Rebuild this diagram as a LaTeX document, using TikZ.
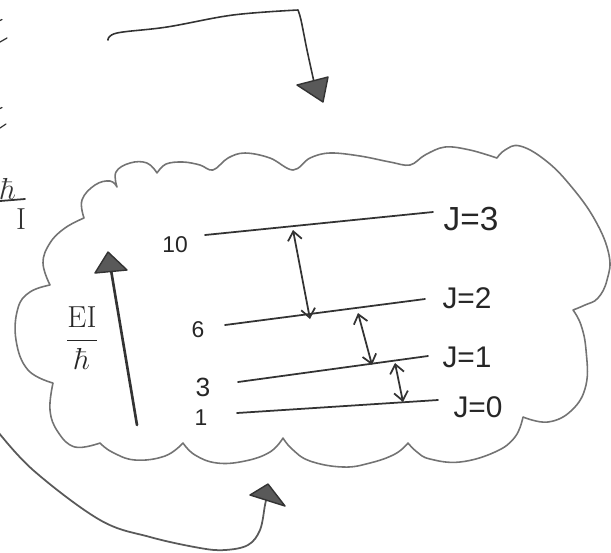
\documentclass[tikz,border=0pt]{standalone}
\usepackage[no-math]{fontspec}
\setmainfont{Liberation Sans}
\usetikzlibrary{arrows.meta}
\begin{document}
\begin{tikzpicture}[x=0.02cm,y=-0.02cm,
  cloudline/.style={draw=black!55, line width=0.9pt, line cap=round, line join=round},
  pencil/.style={draw=black!80, line width=1pt, line cap=round, line join=round},
  gaparrow/.style={pencil, {Straight Barb[length=5pt,width=8pt]}-{Straight Barb[length=5pt,width=8pt]}},
  headtri/.style={fill=black!65, draw=black!80, line width=0.8pt, line join=round},
  lblJ/.style={text=black!85, inner sep=0pt, font=\fontsize{17}{17}\selectfont},
  lblN/.style={text=black!85, inner sep=0pt, font=\fontsize{13}{13}\selectfont}]
\useasboundingbox (0,0) rectangle (611,552);
\clip (0,0) rectangle (611,552);

% cloud
\draw[cloudline]
  plot[smooth,tension=0.7] coordinates {(50,285) (43,263) (50,243) (65,228) (84,218)}
  plot[smooth,tension=0.7] coordinates {(84,218) (82,200) (95,185) (110,181) (117,187)}
  plot[smooth,tension=0.7] coordinates {(117,187) (116,172) (130,163) (147,163) (157,173)}
  plot[smooth,tension=0.6] coordinates {(157,173) (166,164) (183,162) (200,165) (213,170) (228,158) (245,153) (270,158) (293,170) (310,158) (330,153) (360,156) (390,162) (410,165) (425,155) (445,147) (470,150) (497,158)}
  plot[smooth,tension=0.7] coordinates {(497,158) (505,150) (520,146) (545,160) (570,185) (595,220) (609,255) (607,280) (598,298) (585,305) (573,310)}
  plot[smooth,tension=0.7] coordinates {(573,310) (581,325) (586,350) (586,385) (572,410) (548,422) (523,417)}
  plot[smooth,tension=0.7] coordinates {(523,417) (515,437) (495,452) (460,462) (430,459) (417,452) (408,443)}
  plot[smooth,tension=0.7] coordinates {(408,443) (395,454) (370,463) (343,467) (310,461) (292,449) (283,438)}
  plot[smooth,tension=0.7] coordinates {(283,438) (270,452) (245,461) (217,463) (195,455) (183,443)}
  plot[smooth,tension=0.7] coordinates {(183,443) (165,456) (135,460) (112,452) (100,443)}
  plot[smooth,tension=0.7] coordinates {(100,443) (75,447) (58,432) (50,410) (53,383)}
  plot[smooth,tension=0.7] coordinates {(53,383) (28,370) (16,340) (18,308) (30,292) (50,285)};

% energy levels
\coordinate (l3a) at (205,235); \coordinate (l3b) at (433,212);
\coordinate (l2a) at (225,325); \coordinate (l2b) at (425,299);
\coordinate (l1a) at (238,382); \coordinate (l1b) at (428,356);
\coordinate (l0a) at (237,413); \coordinate (l0b) at (438,400);
\draw[pencil] (l3a) -- (l3b);
\draw[pencil] (l2a) -- (l2b);
\draw[pencil] (l1a) -- (l1b);
\draw[pencil] (l0a) -- (l0b);

\node[lblJ] (j3) at (471,219) {\fontsize{19}{19}\selectfont J=3};
\node[lblJ] (j2) at (467,298) {J=2};
\node[lblJ] (j1) at (467,357) {J=1};
\node[lblJ] (j0) at (478,407) {J=0};

\node[lblN] (n10) at (175,245) {10};
\node[lblN] (n6) at (198,330) {6};
\node[lblN,font=\fontsize{15}{15}\selectfont] (n3) at (203,387) {3};
\node[lblN] (n1) at (201,418) {1};

% transitions
\coordinate (a3t) at (293,230); \coordinate (a3b) at (310,319);
\coordinate (a2t) at (358,313); \coordinate (a2b) at (372,365);
\coordinate (a1t) at (395,363); \coordinate (a1b) at (403,402);
\draw[gaparrow] (a3t) -- (a3b);
\draw[gaparrow] (a2t) -- (a2b);
\draw[gaparrow] (a1t) -- (a1b);

% energy axis
\coordinate (eax0) at (137,425); \coordinate (eax1) at (110,264);
\draw[pencil, line width=1.5pt] (eax0) -- (eax1);
\draw[headtri] (95,273) -- (108,252) -- (127,270) -- cycle;
\node[text=black!85, inner sep=0pt, font=\fontsize{18}{18}\selectfont] (elab) at (82,338) {$\displaystyle\frac{\mathrm{EI}}{\hbar}$};

% top arrow
\draw[pencil, line width=0.9pt] plot[smooth,tension=0.6] coordinates {(108,40) (117,33) (167,27) (233,15) (298,10)}
  plot[smooth,tension=0.5] coordinates {(298,10) (301,20) (307,50) (314,82)};
\draw[headtri] (297,85) -- (328,77) -- (323,102) -- cycle;

% bottom arrow
\draw[cloudline, draw=black!65, line width=1pt] plot[smooth,tension=0.6] coordinates {(-5,428) (33,470) (100,520) (150,537) (200,548) (225,550) (248,545) (260,530) (265,505) (267,496)};
\draw[headtri] (250,495) -- (268,484) -- (285,506) -- cycle;

% marks at the left edge
\node[text=black!80, inner sep=0pt, font=\fontsize{16}{16}\selectfont] (hb) at (8,189) {$\hbar$};
\draw[pencil] (0,201) -- (25,199);
\node[text=black!80, inner sep=0pt, font=\fontsize{16}{16}\selectfont] (iI) at (21,219) {$\mathrm{I}$};
\draw[pencil, line width=0.7pt] (0,20.5) -- (2,19.5);
\draw[pencil, line width=0.7pt] (0,42) -- (7,38);
\draw[pencil, line width=0.7pt] (0,108.5) -- (2,107.5);
\draw[pencil, line width=0.7pt] (0,128) -- (6,124);
\end{tikzpicture}
\end{document}
